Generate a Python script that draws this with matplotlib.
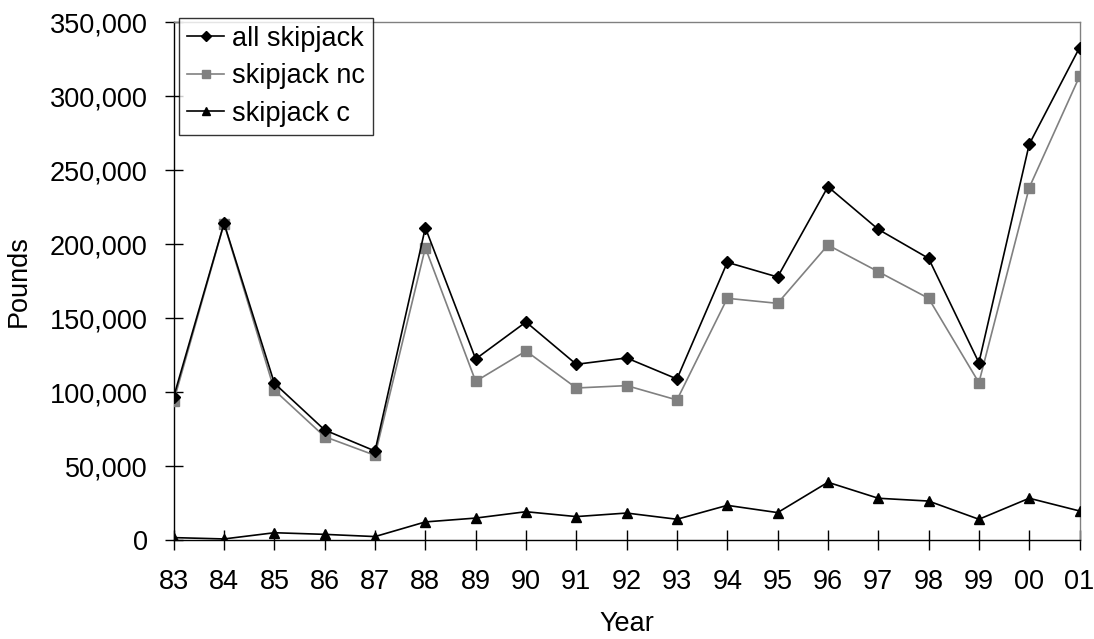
import matplotlib
matplotlib.use("Agg")
import matplotlib.pyplot as plt
from matplotlib.ticker import FuncFormatter

years = ["83", "84", "85", "86", "87", "88", "89", "90", "91", "92",
         "93", "94", "95", "96", "97", "98", "99", "00", "01"]
all_skipjack = [97000, 214200, 106100, 74500, 60300, 211200, 122500, 147500,
                118900, 123200, 109000, 187800, 177900, 238900, 210100,
                190500, 120000, 267600, 332900]
skipjack_nc = [94100, 214000, 101400, 70000, 57400, 197700, 107400, 127900,
               102900, 104500, 94800, 163500, 160100, 199500, 181500,
               163500, 106500, 238300, 313500]
skipjack_c = [1800, 900, 5100, 4000, 2500, 12400, 15000, 19300, 16000, 18400,
              14200, 23600, 18700, 39200, 28400, 26500, 14200, 28400, 19800]

plt.rcParams['font.family'] = ['Liberation Sans', 'DejaVu Sans']
FS = 19.5

fig = plt.figure(figsize=(10.94, 6.39), dpi=100)
ax = fig.add_axes([0.1588, 0.1545, 0.9868 - 0.1588, 0.9651 - 0.1545])

x = list(range(len(years)))
ax.plot(x, all_skipjack, color='black', lw=1.2, marker='D', ms=6.5,
        mfc='black', mec='black', label='all skipjack', zorder=4)
ax.plot(x, skipjack_nc, color='#808080', lw=1.2, marker='s', ms=7,
        mfc='#808080', mec='#808080', label='skipjack nc', zorder=3)
ax.plot(x, skipjack_c, color='black', lw=1.2, marker='^', ms=7.5,
        mfc='black', mec='black', label='skipjack c', zorder=4)

ax.set_xlim(0, len(years) - 1)
ax.set_ylim(0, 350000)
ax.set_xticks(x)
ax.set_xticklabels(years)
ax.set_yticks(range(0, 350001, 50000))
ax.yaxis.set_major_formatter(FuncFormatter(lambda v, p: f"{int(v):,}"))

for s in ['left', 'bottom']:
    ax.spines[s].set_color('black')
    ax.spines[s].set_linewidth(1.0)
for s in ['top', 'right']:
    ax.spines[s].set_color('#808080')
    ax.spines[s].set_linewidth(1.0)

ax.tick_params(axis='y', direction='inout', length=13, width=1.0,
               pad=12.2, labelsize=FS, colors='black')
ax.tick_params(axis='x', direction='inout', length=14, width=1.0,
               pad=13.5, labelsize=FS, colors='black')

ax.set_xlabel('Year', fontsize=FS)
ax.set_ylabel('Pounds', fontsize=FS)
ax.xaxis.set_label_coords(0.5, -0.137)
ax.yaxis.set_label_coords(-0.157, 0.5)

leg = ax.legend(loc='upper left', bbox_to_anchor=(0.006, 1.009), fontsize=FS,
                frameon=True, fancybox=False, shadow=False, handlelength=1.35,
                handletextpad=0.3, borderpad=0.3, labelspacing=0.42,
                borderaxespad=0.0, markerscale=0.85)
leg.get_frame().set_edgecolor('black')
leg.get_frame().set_linewidth(1.0)

fig.savefig('out.png', dpi=100)
